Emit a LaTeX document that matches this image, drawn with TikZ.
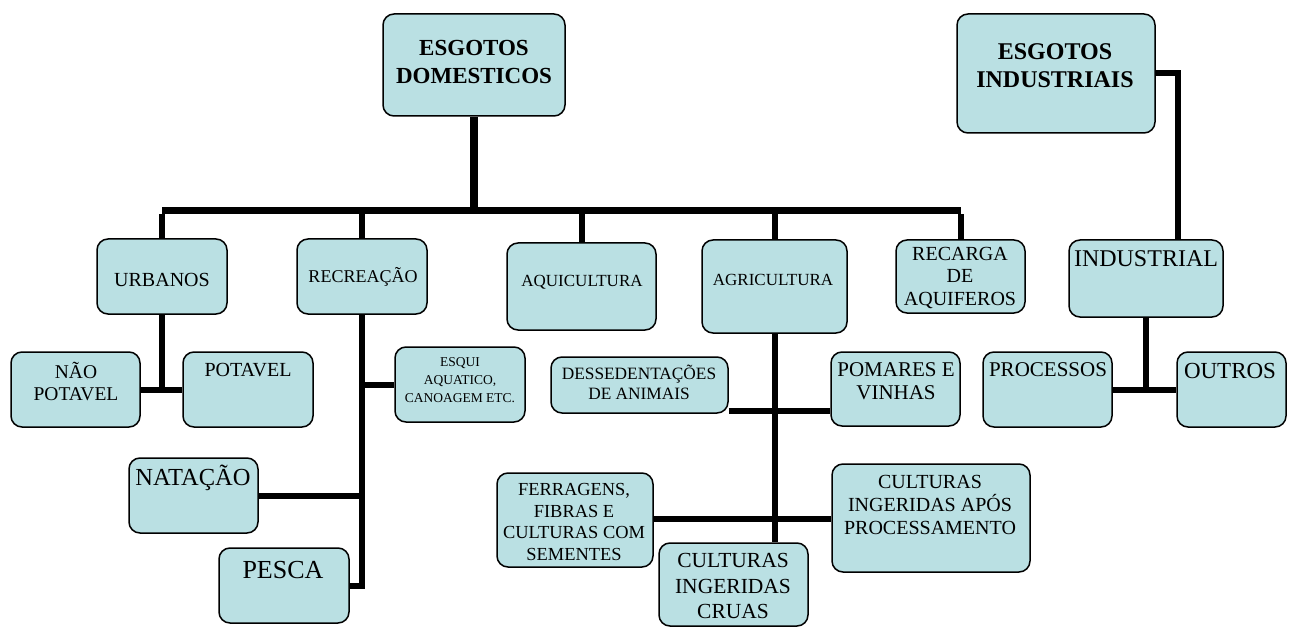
\documentclass[tikz,border=0pt]{standalone}
\usepackage{fontspec}
\setmainfont{Liberation Serif}
\usetikzlibrary{fit}
\definecolor{boxc}{RGB}{186,224,227}
\tikzset{
  box/.style={draw=black, line width=1.5pt, fill=boxc, rounded corners=11pt, inner sep=0pt},
  txt/.style={align=center, inner sep=0pt, text=black},
  conn/.style={draw=black, line width=6pt},
}
\newcommand\fs[2]{\fontsize{#1}{#2}\selectfont}
\begin{document}
\begin{tikzpicture}[x=1pt,y=-1pt]
\useasboundingbox (0,0) rectangle (1292,628);
% boxes
\node[box, fit={(383,14) (565,116)}] (dom) {};
\node[box, fit={(957,14) (1155,133)}] (ind) {};
\node[box, fit={(97,239) (227,314)}] (urb) {};
\node[box, fit={(297,239) (427,314)}] (rec) {};
\node[box, fit={(507,243) (656,330)}] (aqu) {};
\node[box, fit={(702,240) (847,333)}] (agr) {};
\node[box, fit={(896,240) (1025,313)}] (rch) {};
\node[box, fit={(1069,240) (1223,317)}] (indu) {};
\node[box, fit={(11,352) (140,427)}] (nao) {};
\node[box, fit={(183,352) (313,427)}] (pot) {};
\node[box, fit={(395,347) (525,422)}] (esq) {};
\node[box, fit={(129,458) (258,533)}] (nat) {};
\node[box, fit={(219,548) (349,623)}] (pes) {};
\node[box, fit={(551,357) (728,413)}] (des) {};
\node[box, fit={(831,352) (960,426)}] (pom) {};
\node[box, fit={(497,473) (653,567)}] (fer) {};
\node[box, fit={(832,464) (1030,572)}] (cap) {};
\node[box, fit={(659,543) (808,626)}] (cru) {};
\node[box, fit={(983,352) (1112,427)}] (pro) {};
\node[box, fit={(1177,352) (1286,427)}] (out) {};
% texts
\node[txt, font=\fs{23}{28}\bfseries] (dom-t) at (474,62) {ESGOTOS\\DOMESTICOS};
\node[txt, font=\fs{24}{28}\bfseries] (ind-t) at (1055,66) {ESGOTOS\\INDUSTRIAIS};
\node[txt, font=\fs{20}{24}] (urb-t) at (162,280) {URBANOS};
\node[txt, font=\fs{18}{22}] (rec-t) at (363,277) {RECREAÇÃO};
\node[txt, font=\fs{17}{20}] (aqu-t) at (582,282) {AQUICULTURA};
\node[txt, font=\fs{17}{20}] (agr-t) at (773,280) {AGRICULTURA};
\node[txt, font=\fs{20}{22}] (rch-t) at (960,278) {RECARGA\\DE\\AQUIFEROS};
\node[txt, font=\fs{24}{28}] (indu-t) at (1146,259) {INDUSTRIAL};
\node[txt, font=\fs{19.5}{22}] (nao-t) at (76,381) {NÃO\\POTAVEL};
\node[txt, font=\fs{20}{24}] (pot-t) at (248,370) {POTAVEL};
\node[txt, font=\fs{13.5}{18}] (esq-t) at (460,380) {ESQUI\\AQUATICO,\\CANOAGEM ETC.};
\node[txt, font=\fs{24.5}{28}] (nat-t) at (193,478) {NATAÇÃO};
\node[txt, font=\fs{26}{30}] (pes-t) at (283,570) {PESCA};
\node[txt, font=\fs{17.3}{20}] (des-t) at (639,382) {DESSEDENTAÇÕES\\DE ANIMAIS};
\node[txt, font=\fs{21}{23}] (pom-t) at (896,381) {POMARES E\\VINHAS};
\node[txt, font=\fs{18.4}{21.7}] (fer-t) at (574,522) {FERRAGENS,\\FIBRAS E\\CULTURAS COM\\SEMENTES};
\node[txt, font=\fs{21.5}{25.5}] (cru-t) at (733,586) {CULTURAS\\INGERIDAS\\CRUAS};
\node[txt, font=\fs{20}{23}] (cap-t) at (930,505) {CULTURAS\\INGERIDAS APÓS\\PROCESSAMENTO};
\node[txt, font=\fs{21}{24}] (pro-t) at (1048,370) {PROCESSOS};
\node[txt, font=\fs{23}{26}] (out-t) at (1230,371) {OUTROS};
% connectors
\coordinate (bar) at (0,211);
\coordinate (kx) at (1178,0);
\coordinate (b1) at (0,411);
\coordinate (b2) at (0,519);
\draw[conn, line width=8pt] (dom.south) -- (dom.south |- bar);
\draw[conn, line width=7pt] (urb.north |- bar) -- (rch.north |- bar);
\draw[conn] (urb.north) -- ([yshift=-3pt]urb.north |- bar);
\draw[conn] (rec.north) -- (rec.north |- bar);
\draw[conn] (aqu.north) -- (aqu.north |- bar);
\draw[conn] (agr.north) -- (agr.north |- bar);
\draw[conn] (rch.north) -- ([yshift=-3pt]rch.north |- bar);
\draw[conn] (ind.east) -| (kx |- indu.north);
\draw[conn] (urb.south) -- (urb.south |- nao.east);
\draw[conn] (nao.east) -- (pot.west);
\draw[conn] (rec.south) |- (pes.east);
\draw[conn] (esq.west) -- (esq.west -| rec.south);
\draw[conn] (nat.east) -- (nat.east -| rec.south);
\draw[conn] (agr.south) -- (agr.south |- cru.north);
\draw[conn] (des.east |- b1) -- (pom.west |- b1);
\draw[conn] (fer.east |- b2) -- (cap.west |- b2);
\draw[conn] (indu.south) -- (indu.south |- pro.east);
\draw[conn] (pro.east) -- (out.west);
\end{tikzpicture}
\end{document}
